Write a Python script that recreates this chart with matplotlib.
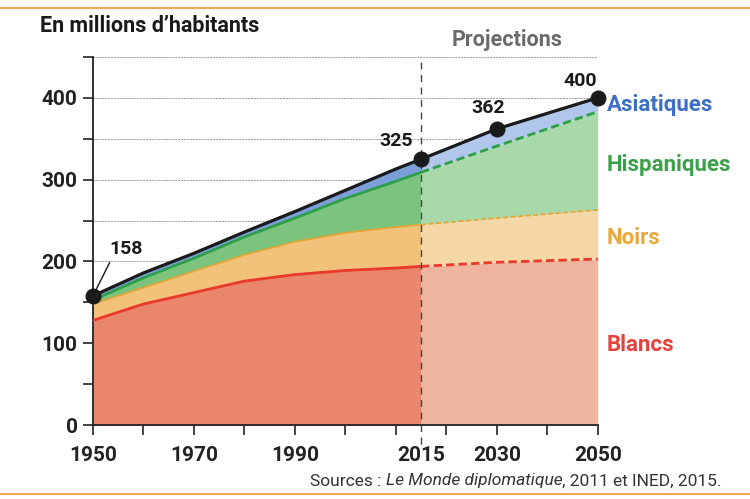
import matplotlib.pyplot as plt
from matplotlib.lines import Line2D
import numpy as np

plt.rcParams['font.family'] = ['Roboto', 'DejaVu Sans']

# donnees (millions d'habitants)
annees = np.array([1950, 1960, 1970, 1980, 1990, 2000, 2010, 2015, 2030, 2050])
blancs = np.array([128, 148, 162, 176, 184, 189, 192, 194, 199, 203])
noirs = np.array([20, 20, 26, 32, 40, 46, 50, 51, 54, 60])
hispaniques = np.array([5, 12, 16, 22, 29, 42, 56, 64, 88, 120])
asiatiques = np.array([5, 6, 6, 6, 8, 10, 15, 16, 21, 17])

annees_points = [1950, 2015, 2030, 2050]
totaux_points = [158, 325, 362, 400]

noms = ["Blancs", "Noirs", "Hispaniques", "Asiatiques"]
fonce = ['#E9866B', '#F3C27A', '#7CC47E', '#7C9FD9']
clair = ['#EFB49E', '#F6D7A6', '#A9D9AA', '#B0C6EA']
ligne = ['#E8392A', '#EFA12E', '#2BA046', '#3A6FD0']
larg = [2, 1.2, 2, 2]
couleur_texte = ['#E8403A', '#E9A93A', '#3BA04A', '#3D6FC8']
y_texte = [345, 238, 165, 105]

fig = plt.figure(figsize=(7.5, 4.99), dpi=100)
ax = fig.add_axes([0.124, 0.148, 0.673, 0.738])

couches = np.vstack([blancs, noirs, hispaniques, asiatiques])
cum = np.cumsum(couches, axis=0)
bas = np.vstack([np.zeros(len(annees)), cum[:-1]])

hist = annees <= 2015
proj = annees >= 2015

for i in range(4):
    ax.fill_between(annees[hist], bas[i][hist], cum[i][hist], color=fonce[i], lw=0, zorder=2)
    ax.fill_between(annees[proj], bas[i][proj], cum[i][proj], color=clair[i], lw=0, zorder=2)
    if i < 3:
        ax.plot(annees[hist], cum[i][hist], color=ligne[i], lw=larg[i], zorder=3)
        ax.plot(annees[proj], cum[i][proj], color=ligne[i], lw=larg[i], ls=(0, (3, 1.5)), zorder=3)

ax.plot(annees, cum[3], color='#1a1a1a', lw=2.3, zorder=4, solid_capstyle='round')
ax.scatter(annees_points, totaux_points, s=110, color='#1a1a1a', zorder=5, clip_on=False)

# etiquettes des totaux
decal = [(24, 34), (-18, 13), (-6, 15), (-13, 12)]
for a, t, d in zip(annees_points, totaux_points, decal):
    ax.annotate(str(t), (a, t), xytext=d, textcoords='offset points', ha='center', va='center',
                fontsize=14, fontweight='bold', color='#1a1a1a', zorder=6)
ax.annotate('', (1950, 158), xytext=(12, 24), textcoords='offset points',
            arrowprops=dict(arrowstyle='-', color='#1a1a1a', lw=1, shrinkA=0, shrinkB=3))

# ligne 2015
ax.axvline(2015, ymin=-0.05, ymax=1, color='#444444', lw=1, ls=(0, (5, 4)), clip_on=False, zorder=4)

ax.set_xlim(1950, 2050)
ax.set_ylim(0, 450)
ax.set_yticks(range(0, 451, 50))
ax.set_yticklabels([str(v) if v % 100 == 0 and v < 450 else '' for v in range(0, 451, 50)])
ax.yaxis.grid(True, ls=(0, (2, 1)), color='#9a9a9a', lw=0.7)
ax.set_axisbelow(True)

ax.set_xticks([1950, 1970, 1990, 2015, 2030, 2050])
ax.set_xticks([1960, 1980, 2000, 2010, 2020, 2040], minor=True)
ax.xaxis.get_major_ticks()[3].tick1line.set_visible(False)
ax.tick_params(axis='both', which='both', length=7, width=1.2, color='#222222',
               labelsize=15, labelcolor='#222222')
ax.tick_params(axis='x', pad=8)
ax.tick_params(axis='y', pad=4)
for lab in ax.get_xticklabels() + ax.get_yticklabels():
    lab.set_fontweight('bold')

for s in ['top', 'right']:
    ax.spines[s].set_visible(False)
for s in ['left', 'bottom']:
    ax.spines[s].set_linewidth(1.3)
    ax.spines[s].set_color('#222222')

# textes
fig.text(40 / 750, 1 - 26 / 499, "En millions d\u2019habitants", fontsize=15.5, fontweight='bold',
         color='#1a1a1a', va='center')
fig.text(507 / 750, 1 - 40 / 499, "Projections", fontsize=15.5, fontweight='bold',
         color='#6a6a6a', ha='center', va='center')
for n, c, y in zip(noms, couleur_texte, y_texte):
    fig.text(607 / 750, 1 - y / 499, n, fontsize=16, fontweight='bold', color=c, va='center')

# source, morceau par morceau
morceaux = [("Sources : ", 'normal'), ("Le Monde diplomatique", 'italic'), (", 2011 et INED, 2015.", 'normal')]
renderer = fig.canvas.get_renderer()
x_px = 310
for txt, st in morceaux:
    t = fig.text(x_px / 750, 1 - 481 / 499, txt, fontsize=12.5, style=st, color='#333333', va='center')
    x_px += t.get_window_extent(renderer).width

# cadre
fig.add_artist(Line2D([0, 1], [1 - 8 / 499, 1 - 8 / 499], color='#F2A65A', lw=1.5))
fig.add_artist(Line2D([0, 1], [1 - 494 / 499, 1 - 494 / 499], color='#F2A65A', lw=1.5))

fig.savefig('out.png', dpi=100)
